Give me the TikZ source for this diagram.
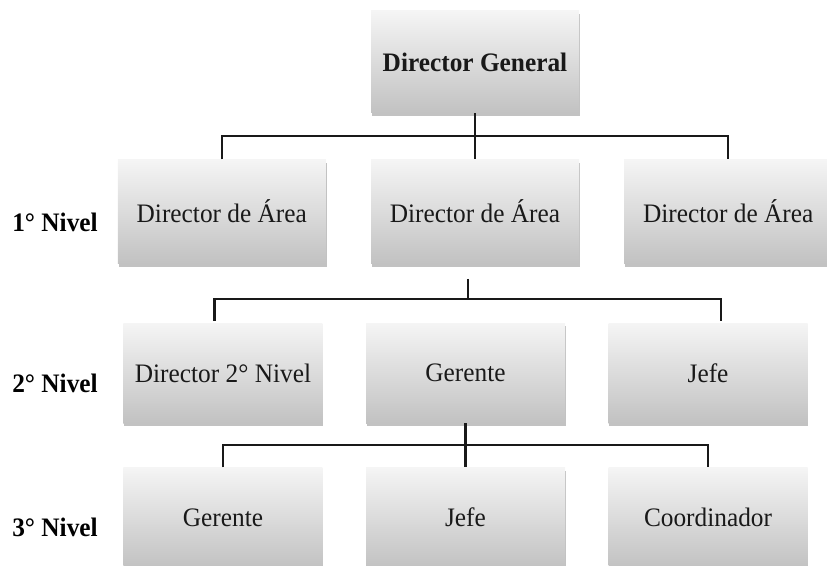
\documentclass[tikz,border=0pt]{standalone}
\usepackage{fontspec}
\setmainfont{Liberation Serif}[FakeStretch=0.95]
\usepackage{tikz}
\usetikzlibrary{
  calc,
  positioning,
  shadows
}

\begin{document}
\begin{tikzpicture}[
    x=0.75pt, y=-0.75pt,
    node distance=34.5pt and 33.5pt,
    box/.style={
      rectangle, top color=white!96!black, bottom color=black!24,
      drop shadow={shadow xshift=0.6pt, shadow yshift=-2.4pt, fill=black!60, opacity=0.4},
      minimum width=156pt, minimum height=78pt, inner sep=2pt,
      font=\fontsize{20}{24}\selectfont, text=black!90
    },
    boss/.style={box, minimum height=76.5pt, font=\fontsize{20}{24}\selectfont\bfseries},
    small/.style={box, minimum width=149.25pt, minimum height=75pt},
    level/.style={font=\fontsize{20}{24}\selectfont\bfseries},
    link/.style={line width=1.6pt, black!90}
  ]
    \useasboundingbox (0,0) rectangle (827,566);

    \node[boss] (dg) at (475,62) {Director General};
    \node[box, below=of dg] (a2) {Director de Área};
    \node[box, left=of a2] (a1) {Director de Área};
    \node[box, right=of a2] (a3) {Director de Área};

    \node[small] (b2) at (465.5,373) {Gerente};
    \node[small, left=32.25pt of b2] (b1) {Director 2° Nivel};
    \node[small, right=32.25pt of b2] (b3) {Jefe};

    \node[small, below=33pt of b2] (c2) {Jefe};
    \node[small, left=32.25pt of c2] (c1) {Gerente};
    \node[small, right=32.25pt of c2] (c3) {Coordinador};

    \node[level] (n1) at (55,222) {1° Nivel};
    \node[level] (n2) at (55,383) {2° Nivel};
    \node[level] (n3) at (55,527) {3° Nivel};

    \coordinate (bus1) at ($(dg.south)!0.5!(a2.north)$);
    \coordinate (bus2) at (468,299);
    \coordinate (bus3) at ($(b2.south)!0.5!(c2.north)$);

    \draw[link] (dg) -- (a2);
    \draw[link] (a1.north) |- (bus1) -| (a3.north);

    \draw[link] ([xshift=-5.25pt, yshift=-11.25pt]a2.south) -- (bus2);
    \draw[link] ([xshift=-6.4pt, yshift=1.5pt]b1.north) |- (bus2) -| ([xshift=9.4pt, yshift=1.5pt]b3.north);

    \draw[link] (b2.south) -- (c2.north);
    \draw[link] (c1.north) |- (bus3) -| (c3.north);
  \end{tikzpicture}
\end{document}
